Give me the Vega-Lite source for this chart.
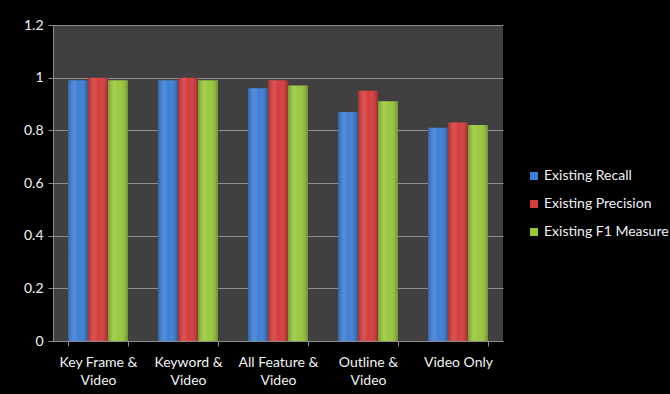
{
  "$schema": "https://vega.github.io/schema/vega-lite/v6.json",
  "width": 450,
  "height": 316,
  "autosize": {"type": "none"},
  "padding": {"left": 53, "top": 25, "right": 167, "bottom": 53},
  "background": "#000000",
  "view": {"fill": "#404040", "stroke": null},
  "config": {
    "font": "Lato",
    "axis": {"labelFont": "Lato", "labelFontSize": 14, "labelColor": "#f2f2f2"},
    "legend": {"labelFont": "Lato", "labelFontSize": 14, "labelColor": "#f2f2f2"}
  },
  "data": {
    "values": [
      {"feature": "Key Frame &\nVideo", "measure": "Existing Recall", "value": 0.99},
      {"feature": "Key Frame &\nVideo", "measure": "Existing Precision", "value": 1.0},
      {"feature": "Key Frame &\nVideo", "measure": "Existing F1 Measure", "value": 0.99},
      {"feature": "Keyword &\nVideo", "measure": "Existing Recall", "value": 0.99},
      {"feature": "Keyword &\nVideo", "measure": "Existing Precision", "value": 1.0},
      {"feature": "Keyword &\nVideo", "measure": "Existing F1 Measure", "value": 0.99},
      {"feature": "All Feature &\nVideo", "measure": "Existing Recall", "value": 0.96},
      {"feature": "All Feature &\nVideo", "measure": "Existing Precision", "value": 0.99},
      {"feature": "All Feature &\nVideo", "measure": "Existing F1 Measure", "value": 0.97},
      {"feature": "Outline &\nVideo", "measure": "Existing Recall", "value": 0.87},
      {"feature": "Outline &\nVideo", "measure": "Existing Precision", "value": 0.95},
      {"feature": "Outline &\nVideo", "measure": "Existing F1 Measure", "value": 0.91},
      {"feature": "Video Only", "measure": "Existing Recall", "value": 0.81},
      {"feature": "Video Only", "measure": "Existing Precision", "value": 0.83},
      {"feature": "Video Only", "measure": "Existing F1 Measure", "value": 0.82}
    ]
  },
  "encoding": {
    "x": {
      "field": "feature",
      "type": "nominal",
      "sort": null,
      "scale": {"paddingInner": 0.3333, "paddingOuter": 0.1667},
      "axis": {
        "title": null,
        "labelAngle": 0,
        "labelExpr": "split(datum.label, '\\n')",
        "labelLineHeight": 18,
        "labelPadding": 9,
        "tickBand": "extent",
        "tickColor": "#8c8c8c",
        "tickSize": 5,
        "domainColor": "#8c8c8c",
        "grid": false
      }
    },
    "xOffset": {
      "field": "measure",
      "type": "nominal",
      "sort": ["Existing Recall", "Existing Precision", "Existing F1 Measure"],
      "scale": {"paddingInner": 0, "paddingOuter": 0}
    },
    "y": {
      "field": "value",
      "type": "quantitative",
      "scale": {"domain": [0, 1.2], "nice": false},
      "axis": {
        "title": null,
        "values": [0, 0.2, 0.4, 0.6, 0.8, 1.0, 1.2],
        "format": "~g",
        "gridColor": "#8c8c8c",
        "gridWidth": 1,
        "domainColor": "#8c8c8c",
        "tickColor": "#8c8c8c",
        "tickSize": 5,
        "labelPadding": 5
      }
    }
  },
  "layer": [
    {
      "mark": {"type": "bar"},
      "encoding": {
        "color": {
          "field": "measure",
          "type": "nominal",
          "sort": ["Existing Recall", "Existing Precision", "Existing F1 Measure"],
          "scale": {"range": ["#3c7fd6", "#d63c3c", "#99c83c"]},
          "legend": {
            "title": null,
            "orient": "none",
            "legendX": 474,
            "legendY": 144,
            "symbolType": "square",
            "symbolSize": 64,
            "symbolStrokeWidth": 0,
            "rowPadding": 14,
            "labelOffset": 3
          }
        }
      }
    },
    {
      "mark": {
        "type": "bar",
        "fill": {
          "gradient": "linear",
          "x1": 0, "y1": 0, "x2": 1, "y2": 0,
          "stops": [
            {"offset": 0, "color": "rgba(0,0,0,0.22)"},
            {"offset": 0.3, "color": "rgba(255,255,255,0.12)"},
            {"offset": 0.55, "color": "rgba(255,255,255,0)"},
            {"offset": 1, "color": "rgba(0,0,0,0.28)"}
          ]
        }
      }
    }
  ]
}
